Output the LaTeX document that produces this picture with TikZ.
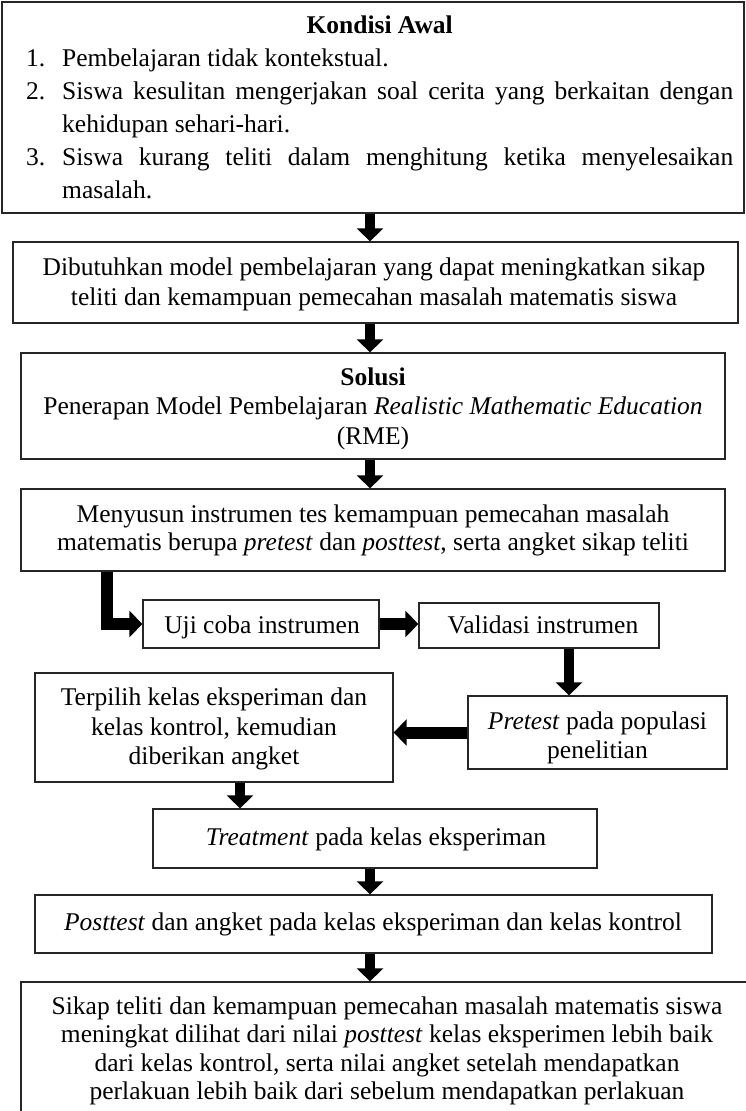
\documentclass[tikz,border=0pt]{standalone}
\usepackage{fontspec}
\setmainfont{Liberation Serif}
\usetikzlibrary{arrows.meta,calc,fit}
\tikzset{
  box/.style={draw=black!85, line width=1.3pt, inner sep=0pt},
  txt/.style={inner sep=0pt, anchor=north, align=center, font=\fontsize{25.5}{29}\selectfont},
  varrow/.style={line width=10pt, -{Triangle[width=26pt,length=13pt]}},
  harrow/.style={line width=12pt, line join=miter, -{Triangle[width=26pt,length=13pt]}},
}
\begin{document}
\begin{tikzpicture}[x=1pt,y=-1pt]
\useasboundingbox (0,0) rectangle (746,1111);
% boxes
\node[box, fit={(2,2) (744,213)}] (b1) {};
\node[box, fit={(13,242) (738,323)}] (b2) {};
\node[box, fit={(21,353) (725,459)}] (b3) {};
\node[box, fit={(21,489) (725,571)}] (b4) {};
\node[box, fit={(143,600) (379,648)}] (uji) {};
\node[box, fit={(419,603) (659,648)}] (val) {};
\node[box, fit={(468,696) (727,769)}] (pre) {};
\node[box, fit={(35,673) (393,782)}] (terp) {};
\node[box, fit={(153,809) (597,868)}] (treat) {};
\node[box, fit={(35,895) (712,953)}] (post) {};
\node[box, fit={(21,982) (752,1125)}] (fin) {};
% texts
\node[inner sep=0pt, anchor=north west] (t1) at (26,15.6) {\parbox[t]{707pt}{\fontsize{25.5}{33}\selectfont
{\centering\textbf{Kondisi Awal}\par}
\hangindent=36pt \hangafter=1 \noindent\makebox[36pt][l]{1.}Pembelajaran tidak kontekstual.\par
\hangindent=36pt \hangafter=1 \noindent\makebox[36pt][l]{2.}Siswa kesulitan mengerjakan soal cerita yang berkaitan dengan\linebreak kehidupan sehari-hari.\par
\hangindent=36pt \hangafter=1 \noindent\makebox[36pt][l]{3.}Siswa kurang teliti dalam menghitung ketika menyelesaikan\linebreak masalah.\par}};
\node[txt, font=\fontsize{25.5}{30}\selectfont] (t2) at (374,257.6) {Dibutuhkan model pembelajaran yang dapat meningkatkan sikap\\teliti dan kemampuan pemecahan masalah matematis siswa};
\begin{scope}
\clip (21,353) rectangle (725,449);
\node[txt, font=\fontsize{25.5}{29.5}\selectfont] (t3) at (373,367.6) {\textbf{Solusi}\\Penerapan Model Pembelajaran \textit{Realistic Mathematic Education}\\(RME)};
\end{scope}
\node[txt, font=\fontsize{25.5}{28}\selectfont] (t4) at (373,504.6) {Menyusun instrumen tes kemampuan pemecahan masalah\\matematis berupa \textit{pretest} dan \textit{posttest}, serta angket sikap teliti};
\node[txt] (t5) at (262,615.6) {Uji coba instrumen};
\node[txt] (t6) at (543,615.6) {Validasi instrumen};
\node[txt] (t7) at (597.5,711.6) {\textit{Pretest} pada populasi\\penelitian};
\node[txt, font=\fontsize{25.5}{29.5}\selectfont] (t8) at (214,687.6) {Terpilih kelas eksperiman dan\\kelas kontrol, kemudian\\diberikan angket};
\node[txt] (t9) at (376,827.6) {\textit{Treatment} pada kelas eksperiman};
\node[txt] (t10) at (373,912.6) {\textit{Posttest} dan angket pada kelas eksperiman dan kelas kontrol};
\node[txt, font=\fontsize{25.5}{28.3}\selectfont] (t11) at (387,996.6) {Sikap teliti dan kemampuan pemecahan masalah matematis siswa\\meningkat dilihat dari nilai \textit{posttest} kelas eksperimen lebih baik\\dari kelas kontrol, serta nilai angket setelah mendapatkan\\perlakuan lebih baik dari sebelum mendapatkan perlakuan};
% arrow x positions
\coordinate (ax) at (370,0);
\coordinate (lx) at (107,0);
\coordinate (vx) at (569,0);
\coordinate (tx) at (240,0);
% connectors
\draw[varrow] (b1.south -| ax) -- (b2.north -| ax);
\draw[varrow] (b2.south -| ax) -- (b3.north -| ax);
\draw[varrow] (b3.south -| ax) -- (b4.north -| ax);
\draw[harrow] (b4.south -| lx) |- (uji.west);
\draw[harrow] (uji.east) -- (uji.east -| val.west);
\draw[varrow] (val.south -| vx) -- (pre.north -| vx);
\draw[harrow] (pre.west) -- (pre.west -| terp.east);
\draw[varrow] (terp.south -| tx) -- (treat.north -| tx);
\draw[varrow] (treat.south -| ax) -- (post.north -| ax);
\draw[varrow] (post.south -| ax) -- (fin.north -| ax);
\end{tikzpicture}
\end{document}
